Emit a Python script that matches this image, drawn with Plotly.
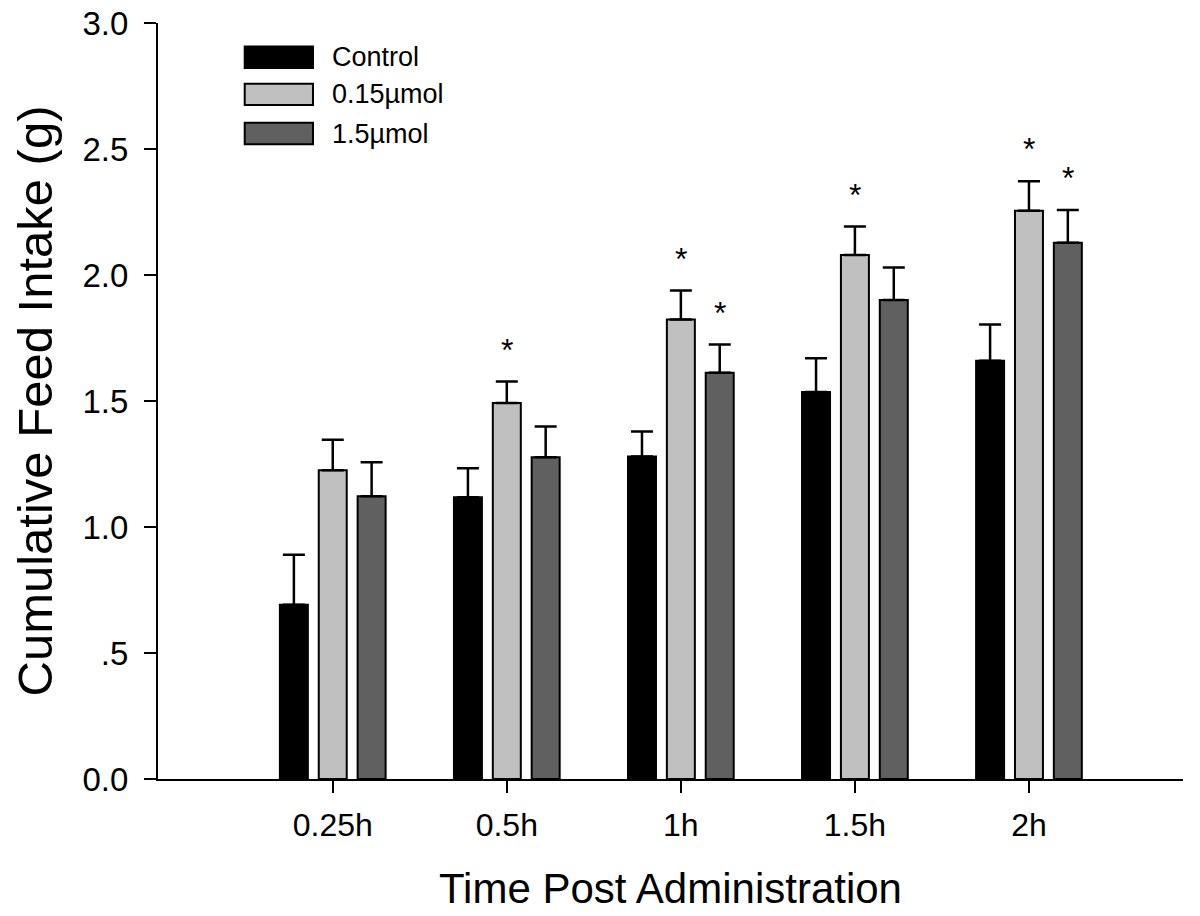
import plotly.graph_objects as go

# ---- data ----
categories = ["0.25h", "0.5h", "1h", "1.5h", "2h"]
series_names = ["Control", "0.15\u00b5mol", "1.5\u00b5mol"]
control_vals = [0.691, 1.118, 1.280, 1.536, 1.660]
control_err = [0.199, 0.115, 0.099, 0.134, 0.144]
low_vals = [1.225, 1.492, 1.823, 2.079, 2.255]
low_err = [0.121, 0.085, 0.115, 0.113, 0.117]
high_vals = [1.122, 1.277, 1.612, 1.901, 2.128]
high_err = [0.135, 0.122, 0.112, 0.129, 0.130]
# significance markers (True = asterisk above bar)
low_sig = [False, True, True, True, True]
high_sig = [False, False, True, False, True]
y_tickvals = [0, 0.5, 1.0, 1.5, 2.0, 2.5, 3.0]
y_ticktext = ["0.0", ".5", "1.0", "1.5", "2.0", "2.5", "3.0"]

colors = ["#000000", "#c0c0c0", "#606060"]
FONT = "Liberation Sans, Arial, Helvetica, sans-serif"

bargap = 0.33
bargroupgap = 0.28
slot = (1 - bargap) / 3

xs = list(range(len(categories)))
vals_list = [control_vals, low_vals, high_vals]
err_list = [control_err, low_err, high_err]

fig = go.Figure()
for name, vals, errs, col in zip(series_names, vals_list, err_list, colors):
    fig.add_trace(go.Bar(
        x=xs, y=vals, name=name,
        marker=dict(color=col, line=dict(color="#000000", width=2)),
        error_y=dict(type="data", array=errs, arrayminus=[0] * len(errs),
                     symmetric=False, color="#000000", thickness=2.5, width=11),
        showlegend=False,
    ))

annotations = []
for k, (vals, errs, sig) in enumerate([(low_vals, low_err, low_sig), (high_vals, high_err, high_sig)]):
    offset = k * slot  # 0.15 µmol bar is centred, 1.5 µmol bar one slot right
    for i, s in enumerate(sig):
        if s:
            annotations.append(dict(
                x=xs[i] + offset, y=vals[i] + errs[i], xref="x", yref="y",
                text="*", showarrow=False, yanchor="bottom",
                yshift=12, font=dict(family=FONT, size=32, color="#000000")))

# legend drawn as large swatches
shapes = []
leg_x0, leg_x1 = 0.0846, 0.1512
leg_centers = [0.9548, 0.9056, 0.8538]
leg_h = 0.0284
for name, col, yc in zip(series_names, colors, leg_centers):
    shapes.append(dict(type="rect", xref="paper", yref="paper",
                       x0=leg_x0, x1=leg_x1, y0=yc - leg_h / 2, y1=yc + leg_h / 2,
                       fillcolor=col, line=dict(color="#000000", width=2)))
    annotations.append(dict(x=0.168, y=yc, xref="paper", yref="paper",
                            text=name, showarrow=False, xanchor="left", yanchor="middle",
                            font=dict(family=FONT, size=27, color="#000000")))

fig.update_layout(
    width=1200, height=916,
    margin=dict(l=150, r=25, t=15, b=145),
    paper_bgcolor="white", plot_bgcolor="white",
    barmode="group", bargap=bargap, bargroupgap=bargroupgap,
    font=dict(family=FONT, color="#000000"),
    shapes=shapes, annotations=annotations,
    showlegend=False,
)
fig.update_xaxes(
    range=[-1.004, 4.885], tickvals=xs, ticktext=categories,
    showline=True, linecolor="#000000", linewidth=2,
    ticks="outside", ticklen=12, tickwidth=2, tickcolor="#000000",
    tickfont=dict(family=FONT, size=32), showgrid=False, zeroline=False,
    ticklabelstandoff=5, automargin=False, ticklabeloverflow="allow",
    title=dict(text="Time Post Administration", font=dict(family=FONT, size=42), standoff=31),
)
fig.update_yaxes(
    range=[0, 3.0], tickvals=y_tickvals, ticktext=y_ticktext,
    showline=True, linecolor="#000000", linewidth=2,
    ticks="outside", ticklen=12, tickwidth=2, tickcolor="#000000",
    tickfont=dict(family=FONT, size=33), showgrid=False, zeroline=False,
    ticklabelstandoff=9, automargin=False, ticklabeloverflow="allow",
    title=dict(text="Cumulative Feed Intake (g)", font=dict(family=FONT, size=49), standoff=20),
)

fig.write_html("out.html")
